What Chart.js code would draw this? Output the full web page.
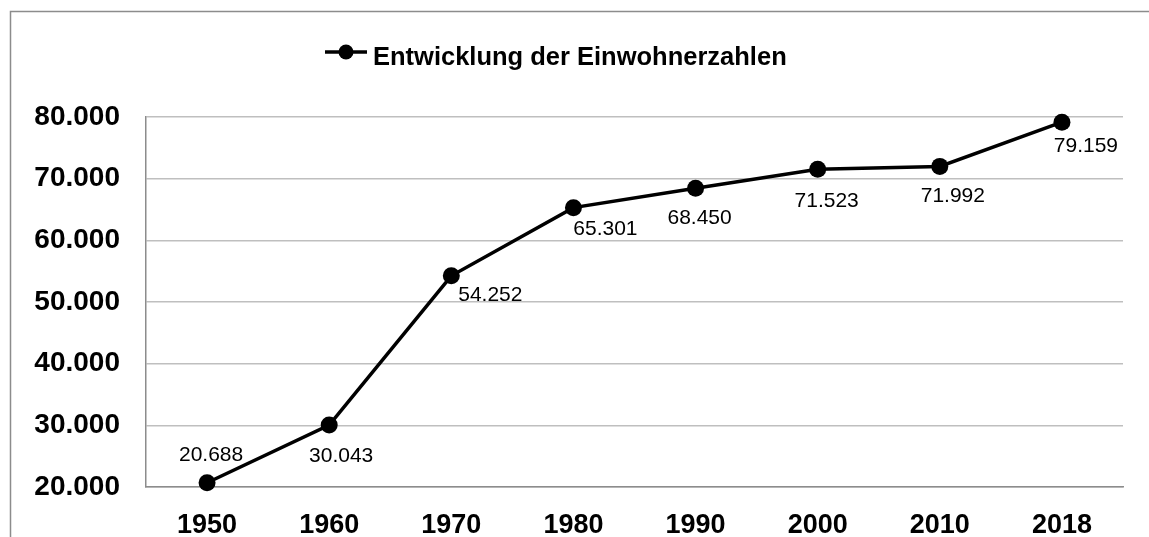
<!DOCTYPE html>
<html lang="de">
<head>
    <meta charset="UTF-8">
    <title>Entwicklung der Einwohnerzahlen</title>
    <style>
        html, body {
            margin: 0;
            padding: 0;
            background: #fff;
            overflow: hidden;
        }
        .chart-box {
            position: relative;
            width: 1149px;
            height: 537px;
        }
    </style>
</head>
<body>
    <div class="chart-box">
        <canvas id="mychart"></canvas>
    </div>

    <script src="https://cdn.jsdelivr.net/npm/chart.js@4/dist/chart.umd.min.js"></script>
    <script>
        // Daten
        const jahre = ['1950', '1960', '1970', '1980', '1990', '2000', '2010', '2018'];
        const einwohner = [20688, 30043, 54252, 65301, 68450, 71523, 71992, 79159];
        const serienName = 'Entwicklung der Einwohnerzahlen';
        const yMin = 20000;
        const yMax = 80000;
        const yStep = 10000;

        // Lage der Datenbeschriftungen (relativ zum Punkt)
        const labelDx = [4, 12, 39, 32, 4, 9, 13, 24];
        const labelDy = [-28, 31, 19, 22, 30, 32, 30, 24];

        const FONT = '"Liberation Sans", Arial, sans-serif';

        // 20688 -> "20.688"
        function fmt(v) {
            return String(Math.round(v)).replace(/\B(?=(\d{3})+(?!\d))/g, '.');
        }

        // Rahmen um das Diagramm
        const rahmen = {
            id: 'rahmen',
            beforeDraw(chart) {
                const ctx = chart.ctx;
                ctx.save();
                ctx.strokeStyle = '#8c8c8c';
                ctx.lineWidth = 1.5;
                ctx.strokeRect(10.5, 11.5, 1400, 800);
                ctx.restore();
            }
        };

        // Legende wie in Excel: Linie mit Punkt + fetter Text
        const legende = {
            id: 'legende',
            afterDraw(chart) {
                const ctx = chart.ctx;
                const ds = chart.data.datasets[0];
                ctx.save();
                ctx.strokeStyle = ds.borderColor;
                ctx.lineWidth = 3.5;
                ctx.beginPath();
                ctx.moveTo(325, 52);
                ctx.lineTo(367, 52);
                ctx.stroke();
                ctx.fillStyle = ds.pointBackgroundColor;
                ctx.beginPath();
                ctx.arc(346, 52, 7.5, 0, Math.PI * 2);
                ctx.fill();
                ctx.fillStyle = '#000';
                ctx.font = 'bold 25.5px ' + FONT;
                ctx.textAlign = 'left';
                ctx.textBaseline = 'alphabetic';
                ctx.fillText(ds.label, 373, 65);
                ctx.restore();
            }
        };

        // Datenbeschriftungen
        const werte = {
            id: 'werte',
            afterDatasetsDraw(chart) {
                const ctx = chart.ctx;
                const meta = chart.getDatasetMeta(0);
                ctx.save();
                ctx.fillStyle = '#000';
                ctx.font = '21px ' + FONT;
                ctx.textAlign = 'center';
                ctx.textBaseline = 'middle';
                meta.data.forEach((pt, i) => {
                    ctx.fillText(fmt(einwohner[i]), pt.x + labelDx[i], pt.y + labelDy[i]);
                });
                ctx.restore();
            }
        };

        const mychart = document.getElementById('mychart');

        new Chart(mychart, {
            type: 'line',
            data: {
                labels: jahre,
                datasets: [
                    {
                        label: serienName,
                        data: einwohner,
                        borderColor: '#000',
                        borderWidth: 3.5,
                        pointRadius: 8.5,
                        pointHoverRadius: 8.5,
                        pointBackgroundColor: '#000',
                        pointBorderWidth: 0,
                        tension: 0,
                        clip: false,
                    },
                ],
            },
            options: {
                responsive: true,
                maintainAspectRatio: false,
                animation: false,
                layout: {
                    padding: { top: 117, right: 26, bottom: 0, left: 0 },
                },
                plugins: {
                    legend: { display: false },
                    tooltip: { enabled: false },
                },
                scales: {
                    x: {
                        offset: true,
                        grid: { display: false, drawTicks: false },
                        border: { display: true, color: '#8c8c8c', width: 1.5 },
                        ticks: {
                            color: '#000',
                            padding: 22,
                            font: { family: FONT, size: 27, weight: 'bold' },
                        },
                        afterFit(scale) { scale.height = 50; },
                    },
                    y: {
                        min: yMin,
                        max: yMax,
                        grid: { color: '#bfbfbf', lineWidth: 1.5, drawTicks: false },
                        border: { display: true, color: '#8c8c8c', width: 1.5 },
                        ticks: {
                            stepSize: yStep,
                            color: '#000',
                            padding: 26,
                            font: { family: FONT, size: 28, weight: 'bold' },
                            callback: (v) => fmt(v),
                        },
                        afterFit(scale) { scale.width = 146; },
                    },
                },
            },
            plugins: [rahmen, legende, werte],
        });
    </script>
</body>
</html>
